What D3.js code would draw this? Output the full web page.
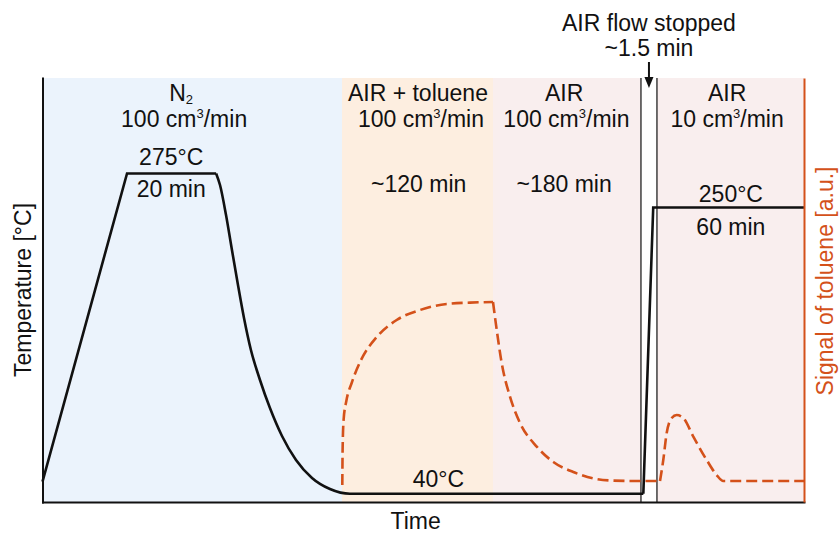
<!DOCTYPE html>
<html>
<head>
<meta charset="utf-8">
<script src="https://cdn.jsdelivr.net/npm/d3@7"></script>
<style>
  html, body { margin: 0; padding: 0; background: #ffffff; }
  svg { display: block; font-family: "Liberation Sans", Arial, sans-serif; }
</style>
</head>
<body>
<svg id="chart" width="840" height="534"></svg>
<script>
// Time runs in arbitrary units: 0 = start of the run, 100 = end of the run.

// Gas-feed phases
const phaseStart = [0, 39.33, 59.16, 80.69];
const phaseEnd   = [39.33, 59.16, 78.59, 100];
const phaseColor = ["#ebf3fc", "#fdeee0", "#f9eeee", "#f9eeee"];
const flowStop   = [78.59, 80.69];   // AIR flow stopped (~1.5 min)

// Temperature programme: time / °C
const heatingTime = [0, 11.1, 22.8];
const heatingTemp = [49, 275, 275];
const coolingTime = [22.8, 23.31, 24.1, 24.88, 25.67, 26.46, 27.37, 28.56, 29.87, 31.45, 33.29, 35.39, 37.75, 40.38, 44.0, 78.9];
const coolingTemp = [275, 266.5, 244.5, 218.8, 193.2, 169, 145.5, 123.5, 102.9, 82.4, 64.8, 51.6, 43.5, 40, 40, 40];
const reheatTime  = [78.9, 80.2, 100];
const reheatTemp  = [40, 250, 250];

// Toluene signal: time / a.u.
const adsorptionTime   = [39.37, 39.41, 39.54, 39.9, 40.6, 41.83, 43.89, 46.51, 49.57, 53.08, 56.14, 59.16];
const adsorptionSignal = [0.085, 0.26, 0.41, 0.505, 0.595, 0.71, 0.825, 0.91, 0.96, 0.99, 0.997, 1.0];
const desorptionTime   = [59.16, 59.65, 60.3, 61.39, 62.71, 64.9, 67.08, 69.7, 72.33, 74.96, 78.0, 81.09];
const desorptionSignal = [1.0, 0.86, 0.695, 0.527, 0.395, 0.277, 0.2, 0.15, 0.118, 0.107, 0.105, 0.105];
const releaseTime      = [81.09, 81.52, 81.97, 82.63, 83.28, 84.15, 85.46, 87.22, 88.53, 89.4, 100];
const releaseSignal    = [0.105, 0.21, 0.345, 0.42, 0.435, 0.42, 0.327, 0.21, 0.135, 0.105, 0.105];

const ORANGE = "#d4511a";
const INK = "#111111";
const FONT = 23;

const svg = d3.select("#chart");

const x = d3.scaleLinear().domain([0, 100]).range([42.5, 804]);
const yTemp = d3.scaleLinear().domain([34, 345]).range([502, 78]);
const ySignal = d3.scaleLinear().domain([0, 2.12]).range([502, 78]);

const zip = (a, b) => a.map((v, i) => [v, b[i]]);

// Phase backgrounds
svg.append("g").selectAll("rect")
  .data(phaseStart.map((s, i) => ({ s, e: phaseEnd[i], c: phaseColor[i] })))
  .join("rect")
  .attr("x", d => x(d.s))
  .attr("width", d => x(d.e) - x(d.s))
  .attr("y", yTemp.range()[1])
  .attr("height", yTemp.range()[0] - yTemp.range()[1])
  .attr("fill", d => d.c);

// Boundaries of the flow-stop interval
svg.append("g").selectAll("line")
  .data(flowStop)
  .join("line")
  .attr("x1", d => x(d)).attr("x2", d => x(d))
  .attr("y1", yTemp.range()[1]).attr("y2", yTemp.range()[0])
  .attr("stroke", "#222").attr("stroke-width", 1.3);

// Toluene signal (dashed, right axis)
const sigLine = d3.line().x(d => x(d[0])).y(d => ySignal(d[1])).curve(d3.curveMonotoneX);
const sigG = svg.append("g")
  .attr("fill", "none").attr("stroke", ORANGE)
  .attr("stroke-width", 2.6).attr("stroke-dasharray", "11,5");
[zip(adsorptionTime, adsorptionSignal),
 zip(desorptionTime, desorptionSignal),
 zip(releaseTime, releaseSignal)].forEach(seg => sigG.append("path").attr("d", sigLine(seg)));

// Temperature programme (solid, left axis)
const tLinear = d3.line().x(d => x(d[0])).y(d => yTemp(d[1]));
const tSmooth = d3.line().x(d => x(d[0])).y(d => yTemp(d[1])).curve(d3.curveMonotoneX);
const tempG = svg.append("g")
  .attr("fill", "none").attr("stroke", INK)
  .attr("stroke-width", 2.6).attr("stroke-linejoin", "miter");
tempG.append("path").attr("d", tLinear(zip(heatingTime, heatingTemp)));
tempG.append("path").attr("d", tSmooth(zip(coolingTime, coolingTemp)));
tempG.append("path").attr("d", tLinear(zip(reheatTime, reheatTemp)));

// Axes without ticks
const bottomAxis = svg.append("g")
  .attr("transform", `translate(0,${yTemp.range()[0]})`)
  .call(d3.axisBottom(x).tickValues([]).tickSizeOuter(0));
const leftAxis = svg.append("g")
  .attr("transform", `translate(${x.range()[0]},0)`)
  .call(d3.axisLeft(yTemp).tickValues([]).tickSizeOuter(0));
const rightAxis = svg.append("g")
  .attr("transform", `translate(${x.range()[1]},0)`)
  .call(d3.axisRight(ySignal).tickValues([]).tickSizeOuter(0));
[bottomAxis, leftAxis].forEach(g => g.select(".domain")
  .attr("stroke", INK).attr("stroke-width", 2).attr("stroke-linecap", "square"));
rightAxis.select(".domain").attr("stroke", ORANGE).attr("stroke-width", 2);

// Text helpers
function label(xp, yp, parts, opts = {}) {
  const t = svg.append("text")
    .attr("x", xp).attr("y", yp)
    .attr("text-anchor", "middle")
    .attr("font-size", FONT)
    .attr("fill", opts.fill || INK);
  if (typeof parts === "string") { t.text(parts); return t; }
  parts.forEach(p => {
    const s = t.append("tspan").text(p.t);
    if (p.small) s.attr("font-size", 13);
    if (p.dy) s.attr("dy", p.dy);
  });
  return t;
}
const flow = n => [{ t: n + " cm" }, { t: "3", small: true, dy: -9 }, { t: "/min", dy: 9 }];

const row1 = 101, row2 = 127, row3 = 192;

// Phase captions
label(x(18.2), row1, [{ t: "N" }, { t: "2", small: true, dy: 3 }]);
label(x(18.6), row2, flow("100"));
label(x(49.3), row1, "AIR + toluene");
label(x(49.7), row2, flow("100"));
label(x(49.4), row3, "~120 min");
label(x(68.5), row1, "AIR");
label(x(68.8), row2, flow("100"));
label(x(68.5), row3, "~180 min");
label(x(89.9), row1, "AIR");
label(x(89.9), row2, flow("10"));

// Temperature step captions
label(x(16.9), yTemp(275) - 8, "275°C");
label(x(16.9), yTemp(275) + 24, "20 min");
label(x(90.4), yTemp(250) - 6, "250°C");
label(x(90.4), yTemp(250) + 27, "60 min");
label(x(52), yTemp(40) - 7, "40°C");

// Flow-stop annotation with arrow
const xStop = x((flowStop[0] + flowStop[1]) / 2);
label(xStop, 31, "AIR flow stopped");
label(xStop, 56, "~1.5 min");
svg.append("line")
  .attr("x1", xStop).attr("x2", xStop)
  .attr("y1", 62).attr("y2", 79)
  .attr("stroke", INK).attr("stroke-width", 2);
svg.append("path")
  .attr("d", d3.line()([[xStop - 4.5, 77], [xStop + 4.5, 77], [xStop, 88]]) + "Z")
  .attr("fill", INK);

// Axis titles
label(x(49), 529, "Time");
svg.append("text")
  .attr("transform", "translate(31,290) rotate(-90)")
  .attr("text-anchor", "middle").attr("font-size", FONT).attr("fill", INK)
  .text("Temperature [°C]");
svg.append("text")
  .attr("transform", "translate(833,281) rotate(-90)")
  .attr("text-anchor", "middle").attr("font-size", FONT).attr("fill", ORANGE)
  .text("Signal of toluene [a.u.]");
</script>
</body>
</html>
